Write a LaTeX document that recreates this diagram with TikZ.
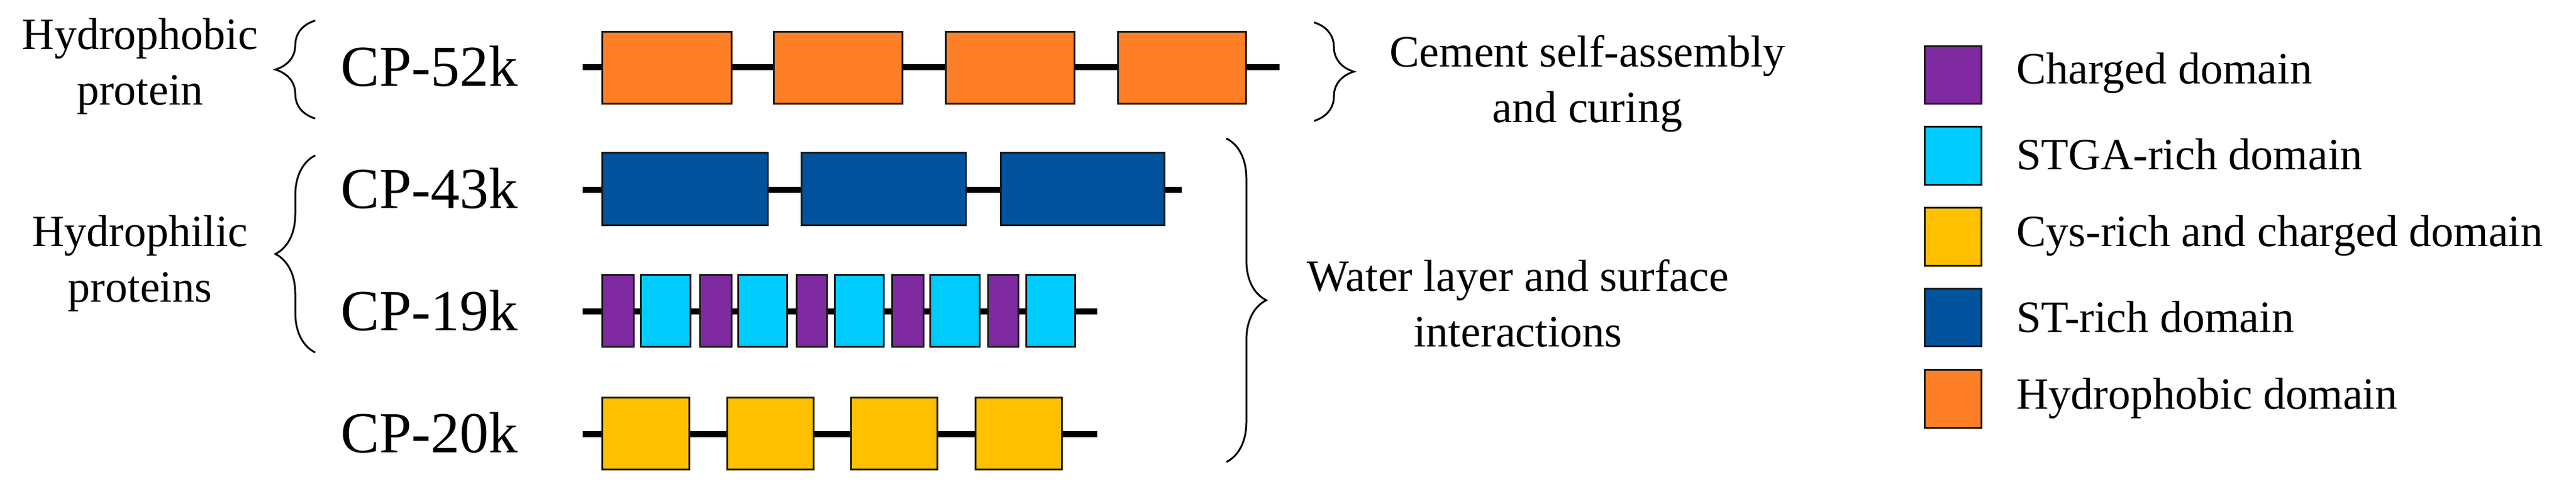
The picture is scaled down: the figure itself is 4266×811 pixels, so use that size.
\documentclass[tikz,border=0pt]{standalone}
\usepackage{fontspec}
\setmainfont{Liberation Serif}
\usetikzlibrary{decorations.pathreplacing}
\definecolor{orng}{HTML}{FF7F27}
\definecolor{stblue}{HTML}{00539C}
\definecolor{cyn}{HTML}{00CCFF}
\definecolor{purp}{HTML}{7F2AA0}
\definecolor{yel}{HTML}{FFC000}
\definecolor{edge}{HTML}{1A1A1A}
\newcommand\dbox[6]{\node[dom,fill=#2,minimum width={(#4-#3)*0.5pt},minimum height={(#6-#5)*0.5pt}] (#1) at ({(#3+#4)/2},{(#5+#6)/2}) {};}
\begin{document}
\begin{tikzpicture}[x=0.5pt,y=-0.5pt,
  dom/.style={draw=edge,line width=1.5pt,inner sep=0pt,outer sep=0pt},
  backbone/.style={line width=5pt,black},
  lbl/.style={font=\fontsize{37}{46}\selectfont,align=center,inner sep=0pt},
  cp/.style={font=\fontsize{48}{58}\selectfont,inner sep=0pt},
  brc/.style={decorate,decoration={brace,amplitude=33pt},line width=1.5pt}]
\useasboundingbox (0,0) rectangle (4266,811);
% backbones
\coordinate (a1) at (965,111); \coordinate (a2) at (2119,111);
\coordinate (b1) at (965,314); \coordinate (b2) at (1957,314);
\coordinate (c1) at (965,515); \coordinate (c2) at (1817,515);
\coordinate (d1) at (965,718); \coordinate (d2) at (1817,718);
\draw[backbone] (a1) -- (a2);
\draw[backbone] (b1) -- (b2);
\draw[backbone] (c1) -- (c2);
\draw[backbone] (d1) -- (d2);
% CP-52k
\dbox{o1}{orng}{997}{1211}{52}{171}
\dbox{o2}{orng}{1281}{1494}{52}{171}
\dbox{o3}{orng}{1566}{1779}{52}{171}
\dbox{o4}{orng}{1851}{2063}{52}{171}
% CP-43k
\dbox{s1}{stblue}{997}{1271}{252}{372}
\dbox{s2}{stblue}{1327}{1599}{252}{372}
\dbox{s3}{stblue}{1657}{1928}{252}{372}
% CP-19k
\dbox{p1}{purp}{997}{1049}{454}{573}
\dbox{c1b}{cyn}{1061}{1143}{454}{573}
\dbox{p2}{purp}{1159}{1211}{454}{573}
\dbox{c2b}{cyn}{1222}{1303}{454}{573}
\dbox{p3}{purp}{1319}{1369}{454}{573}
\dbox{c3b}{cyn}{1382}{1463}{454}{573}
\dbox{p4}{purp}{1477}{1529}{454}{573}
\dbox{c4b}{cyn}{1540}{1622}{454}{573}
\dbox{p5}{purp}{1636}{1686}{454}{573}
\dbox{c5b}{cyn}{1699}{1780}{454}{573}
% CP-20k
\dbox{y1}{yel}{997}{1141}{657}{776}
\dbox{y2}{yel}{1204}{1347}{657}{776}
\dbox{y3}{yel}{1409}{1552}{657}{776}
\dbox{y4}{yel}{1615}{1758}{657}{776}
% CP labels
\node[cp] (l52) at (711,110) {CP-52k};
\node[cp] (l43) at (711,312) {CP-43k};
\node[cp] (l19) at (711,514) {CP-19k};
\node[cp] (l20) at (711,716) {CP-20k};
% braces
\coordinate (bA1) at (522,196); \coordinate (bA2) at (522,34);
\draw[brc] (bA1) -- (bA2);
\coordinate (bB1) at (522,583); \coordinate (bB2) at (522,257);
\draw[brc] (bB1) -- (bB2);
\coordinate (bC1) at (2176,37); \coordinate (bC2) at (2176,200);
\draw[brc] (bC1) -- (bC2);
\coordinate (bD1) at (2031,229); \coordinate (bD2) at (2031,764);
\draw[brc] (bD1) -- (bD2);
% side labels
\node[lbl] (hpb) at (232,110) {Hydrophobic\\protein};
\node[lbl] (hpl) at (232,436) {Hydrophilic\\proteins};
\node[lbl] (cem) at (2629,138) {Cement self-assembly\\and curing};
\node[lbl] (wat) at (2514,502) {Water layer and surface\\interactions};
% legend
\dbox{g1}{purp}{3187}{3281}{76}{171}
\dbox{g2}{cyn}{3187}{3281}{209}{305}
\dbox{g3}{yel}{3187}{3281}{343}{439}
\dbox{g4}{stblue}{3187}{3281}{477}{572}
\dbox{g5}{orng}{3187}{3281}{611}{707}
\node[lbl,anchor=west] (t1) at (3339,121) {Charged domain};
\node[lbl,anchor=west] (t2) at (3339,255) {STGA-rich domain};
\node[lbl,anchor=west] (t3) at (3339,390) {Cys-rich and charged domain};
\node[lbl,anchor=west] (t4) at (3339,524) {ST-rich domain};
\node[lbl,anchor=west] (t5) at (3339,659) {Hydrophobic domain};
\end{tikzpicture}
\end{document}
